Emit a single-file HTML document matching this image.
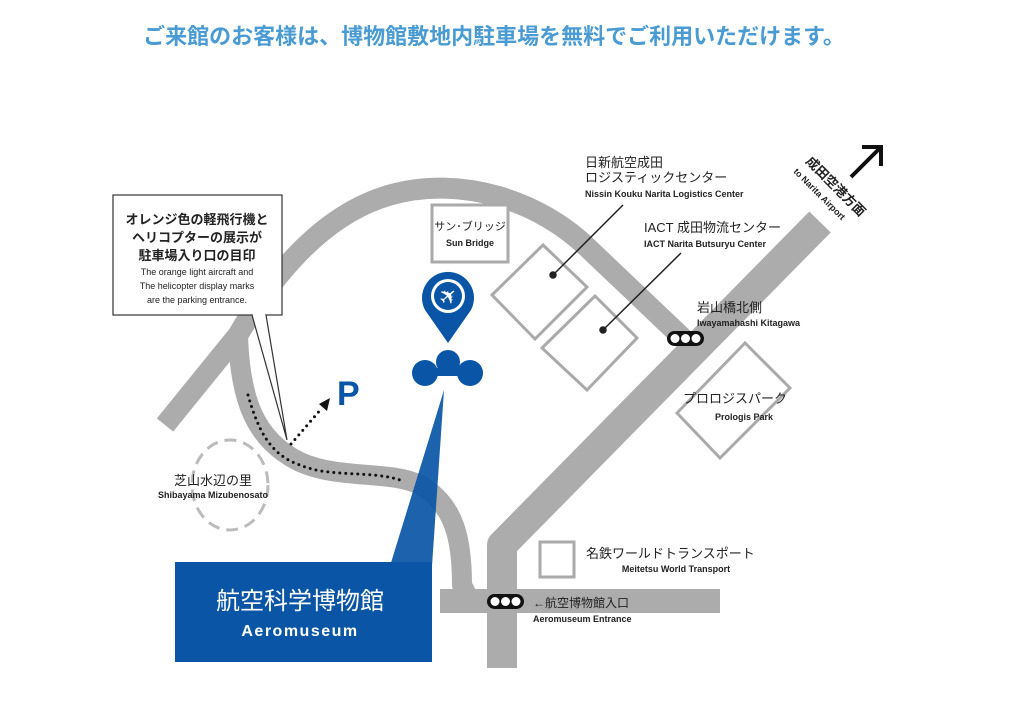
<!DOCTYPE html>
<html><head><meta charset="utf-8"><style>
html,body{margin:0;padding:0;background:#fff;}
svg{display:block;}
text{font-family:"Liberation Sans","Noto Sans CJK JP",sans-serif;}
</style></head><body>
<svg width="1024" height="724" viewBox="0 0 1024 724" xmlns="http://www.w3.org/2000/svg">
<text x="494" y="44" text-anchor="middle" font-size="22" font-weight="bold" fill="#4a9bd3">ご来館のお客様は、博物館敷地内駐車場を無料でご利用いただけます。</text>
<g fill="none" stroke="#acacac" stroke-linejoin="round">
<path d="M165 425 L238 335 C270 280 320 215 390 195 C460 175 540 200 590 250 L690 345" stroke-width="21"/>
<path d="M820 222 L502 545 L502 668" stroke-width="30"/>
<path d="M440 601 L720 601" stroke-width="24"/>
<path d="M238 335 C240 400 255 440 300 462 C340 480 390 470 420 485 C455 505 462 540 462 585 L470 601" stroke-width="20"/>
</g>
<g fill="#fff" stroke="#aaa" stroke-width="3">
<rect x="432" y="205" width="76" height="57"/>
<polygon points="492,295 543,245 587,287 535,339"/>
<polygon points="542,348 595,296 637,338 587,390"/>
<polygon points="677,413 745,343 790,388 720,458"/>
<rect x="540" y="542" width="34" height="35"/>
</g>
<ellipse cx="230" cy="485" rx="38" ry="45" fill="none" stroke="#bbb" stroke-width="3" stroke-dasharray="12 7"/>
<g stroke="#222" stroke-width="1.5">
<line x1="553" y1="275" x2="623" y2="205"/><circle cx="553" cy="275" r="3" fill="#222"/>
<line x1="603" y1="330" x2="681" y2="253"/><circle cx="603" cy="330" r="3" fill="#222"/>
</g>
<rect x="113" y="195" width="169" height="120" fill="#fff" stroke="#333" stroke-width="1.2"/>
<polyline points="252,315 287,440 266,315" fill="#fff" stroke="#333" stroke-width="1.2"/>
<rect x="253" y="313" width="12" height="3" fill="#fff"/>
<g text-anchor="middle" fill="#222">
<text x="197" y="224" font-size="13" font-weight="bold">オレンジ色の軽飛行機と</text>
<text x="197" y="242" font-size="13" font-weight="bold">ヘリコプターの展示が</text>
<text x="197" y="260" font-size="13" font-weight="bold">駐車場入り口の目印</text>
<text x="197" y="275" font-size="9">The orange light aircraft and</text>
<text x="197" y="289" font-size="9">The helicopter display marks</text>
<text x="197" y="303" font-size="9">are the parking entrance.</text>
</g>
<path d="M248 395 C258 430 270 455 300 465 C330 478 370 470 400 480" fill="none" stroke="#111" stroke-width="3" stroke-linecap="round" stroke-dasharray="0 6"/>
<path d="M291 444 L322 408" fill="none" stroke="#111" stroke-width="3" stroke-linecap="round" stroke-dasharray="0 6"/>
<polygon points="330,398 319,404 327,411" fill="#111"/>
<text x="337" y="405" font-size="34" font-weight="bold" fill="#0a55a5">P</text>
<path d="M448 343 L425 310 A26 26 0 1 1 471 310 Z" fill="#0a55a5"/>
<circle cx="448" cy="296" r="17" fill="#fff"/>
<circle cx="448" cy="296" r="14" fill="#0a55a5"/>
<text x="448" y="304" text-anchor="middle" font-size="22" fill="#fff" transform="rotate(-40 448 296)">✈</text>
<circle cx="425" cy="373" r="13" fill="#0a55a5"/>
<circle cx="448" cy="362" r="12" fill="#0a55a5"/>
<circle cx="470" cy="373" r="13" fill="#0a55a5"/>
<rect x="425" y="368" width="45" height="8" fill="#0a55a5"/>
<polygon points="444,390 432,566 390,566" fill="#0a55a5" opacity="0.92"/>
<rect x="175" y="562" width="257" height="100" fill="#0a55a5"/>
<text x="300" y="609" text-anchor="middle" font-size="24" fill="#fff">航空科学博物館</text>
<text x="300" y="636" text-anchor="middle" font-size="16" font-weight="bold" fill="#fff" letter-spacing="1.5">Aeromuseum</text>
<g>
<rect x="667" y="331" width="37" height="15" rx="7.5" fill="#111"/>
<circle cx="675" cy="338.5" r="4.5" fill="#fff"/><circle cx="685.5" cy="338.5" r="4.5" fill="#fff"/><circle cx="696" cy="338.5" r="4.5" fill="#fff"/>
<rect x="487" y="594" width="37" height="15" rx="7.5" fill="#111"/>
<circle cx="495" cy="601.5" r="4.5" fill="#fff"/><circle cx="505.5" cy="601.5" r="4.5" fill="#fff"/><circle cx="516" cy="601.5" r="4.5" fill="#fff"/>
</g>
<line x1="851" y1="177" x2="880" y2="148" stroke="#111" stroke-width="4"/>
<polyline points="862,147 881,147 881,166" fill="none" stroke="#111" stroke-width="4"/>
<g fill="#222">
<text x="470" y="230" text-anchor="middle" font-size="11">サン･ブリッジ</text>
<text x="470" y="246" text-anchor="middle" font-size="9" font-weight="bold">Sun Bridge</text>
<text x="585" y="167" font-size="13">日新航空成田</text>
<text x="585" y="182" font-size="13">ロジスティックセンター</text>
<text x="585" y="197" font-size="9" font-weight="bold">Nissin Kouku Narita Logistics Center</text>
<text x="644" y="232" font-size="13">IACT 成田物流センター</text>
<text x="644" y="247" font-size="9" font-weight="bold">IACT Narita Butsuryu Center</text>
<text x="697" y="312" font-size="13">岩山橋北側</text>
<text x="697" y="326" font-size="9" font-weight="bold">Iwayamahashi Kitagawa</text>
<text x="735" y="403" text-anchor="middle" font-size="13">プロロジスパーク</text>
<text x="744" y="420" text-anchor="middle" font-size="9" font-weight="bold">Prologis Park</text>
<text x="213" y="485" text-anchor="middle" font-size="13">芝山水辺の里</text>
<text x="213" y="498" text-anchor="middle" font-size="9" font-weight="bold">Shibayama Mizubenosato</text>
<text x="586" y="558" font-size="13">名鉄ワールドトランスポート</text>
<text x="676" y="572" text-anchor="middle" font-size="9" font-weight="bold">Meitetsu World Transport</text>
<text x="533" y="607" font-size="12">←航空博物館入口</text>
<text x="533" y="622" font-size="9" font-weight="bold">Aeromuseum Entrance</text>
<text x="805" y="162" font-size="13" font-weight="bold" transform="rotate(45 805 162)">成田空港方面</text>
<text x="793" y="172" font-size="9" font-weight="bold" transform="rotate(45 793 172)">to Narita Airport</text>
</g>
</svg>
</body></html>
